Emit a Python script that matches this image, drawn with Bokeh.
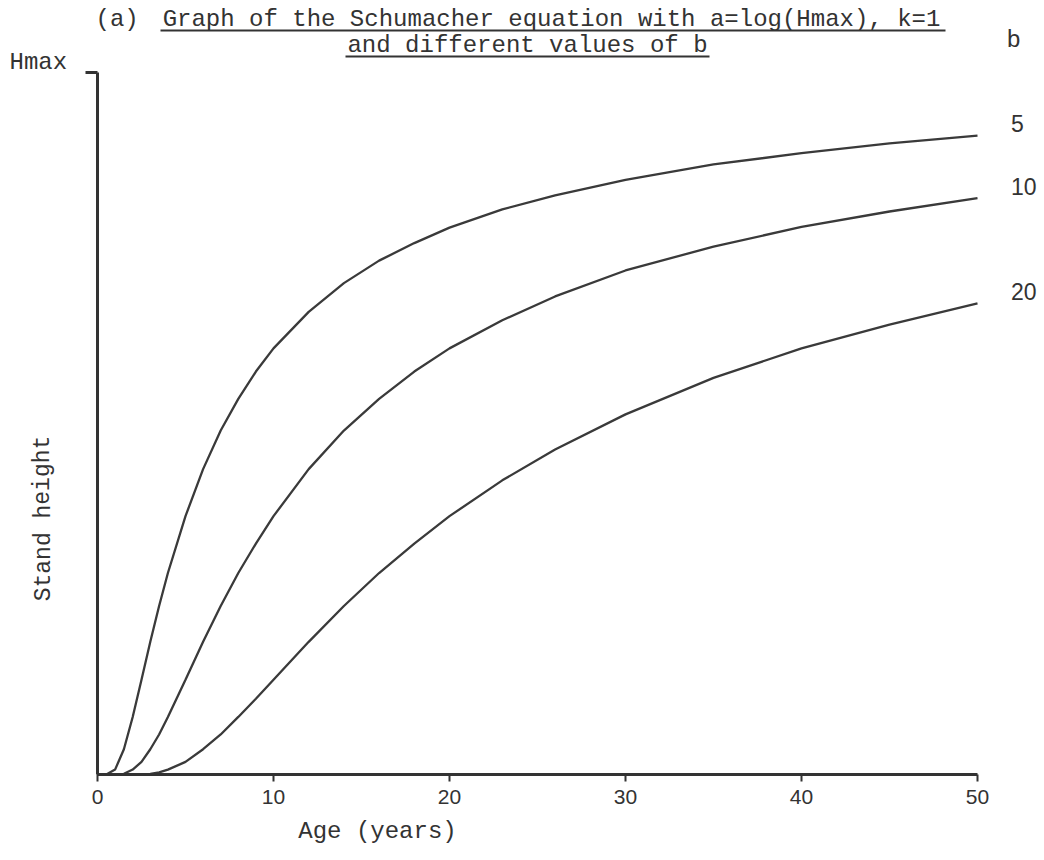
from bokeh.plotting import figure
from bokeh.models import FixedTicker, Label, BoxAnnotation, Range1d
from bokeh.embed import file_html
from bokeh.resources import INLINE

# ---- data (height as a fraction of Hmax) ----
ages = [0, 0.5, 1, 1.5, 2, 2.5, 3, 3.5, 4, 5, 6, 7, 8, 9, 10, 12, 14, 16, 18,
        20, 23, 26, 30, 35, 40, 45, 50]
b_values = ["5", "10", "20"]
h_b5 = [0, 0.000, 0.007, 0.036, 0.082, 0.135, 0.189, 0.240, 0.287, 0.368, 0.435,
        0.490, 0.535, 0.574, 0.607, 0.659, 0.700, 0.732, 0.757, 0.779, 0.805,
        0.825, 0.847, 0.869, 0.885, 0.899, 0.910]
h_b10 = [0, 0.000, 0.000, 0.001, 0.007, 0.018, 0.036, 0.057, 0.082, 0.135, 0.189,
         0.240, 0.287, 0.329, 0.368, 0.435, 0.490, 0.535, 0.574, 0.607, 0.647,
         0.681, 0.718, 0.752, 0.780, 0.802, 0.821]
h_b20 = [0, 0.000, 0.000, 0.000, 0.000, 0.000, 0.001, 0.003, 0.007, 0.018, 0.036,
         0.057, 0.082, 0.108, 0.135, 0.189, 0.240, 0.287, 0.329, 0.368, 0.419,
         0.463, 0.513, 0.565, 0.607, 0.641, 0.671]
series = [h_b5, h_b10, h_b20]
x_ticks = [0, 10, 20, 30, 40, 50]

title_1 = "Graph of the Schumacher equation with a=log(Hmax), k=1"
title_2 = "and different values of b"

INK = "#333333"
MONO = "Liberation Mono"
DIGITS = "Liberation Sans"

W, H = 1044, 860
X0, XS = 97, 17.6      # pixel of age 0, pixels per year
Y0, YS = 774, 702      # pixel of height 0, pixels per Hmax


def px_x(px):
    return (px - X0) / XS


def px_y(py):
    return (Y0 - py) / YS


p = figure(width=W, height=H, output_backend="svg", toolbar_location=None,
           x_range=Range1d(px_x(0), px_x(W)), y_range=Range1d(px_y(H), px_y(0)),
           min_border=0, min_border_left=0, min_border_right=0,
           min_border_top=0, min_border_bottom=0, title=None)
p.outline_line_color = None
p.grid.visible = False
p.background_fill_color = "white"
p.border_fill_color = "white"

# x axis
xa = p.xaxis[0]
xa.fixed_location = 0
xa.ticker = FixedTicker(ticks=x_ticks)
xa.bounds = (0, 50)
xa.axis_line_width = 3
xa.axis_line_color = INK
xa.major_tick_out = 7
xa.major_tick_in = 0
xa.major_tick_line_width = 2
xa.major_tick_line_color = INK
xa.minor_tick_line_color = None
xa.major_label_text_font = DIGITS
xa.major_label_text_font_size = "21px"
xa.major_label_text_color = INK
xa.major_label_standoff = 8

# y axis: a single tick at Hmax
ya = p.yaxis[0]
ya.fixed_location = 0
ya.ticker = FixedTicker(ticks=[1.0])
ya.bounds = (0, 1.0)
ya.axis_line_width = 3
ya.axis_line_color = INK
ya.major_tick_out = 12
ya.major_tick_in = 0
ya.major_tick_line_width = 3
ya.major_tick_line_color = INK
ya.minor_tick_line_color = None
ya.major_label_overrides = {1.0: " "}

# curves
for vals in series:
    p.line(ages, vals, line_color="#3a3a3a", line_width=2.3)

# b labels at the right end of each curve
p.text(x=[51.9] * len(series), y=[v[-1] + 0.017 for v in series], text=b_values,
       text_font={"value": DIGITS}, text_font_size={"value": "23px"},
       text_color=INK, text_align="left", text_baseline="middle")


def lab(text, x, y, size="24px", align="left", font=MONO, angle=0.0):
    p.add_layout(Label(x=px_x(x), y=px_y(y), text=text, text_font=font,
                       text_font_size=size, text_color=INK, text_align=align,
                       text_baseline="middle", angle=angle))


lab("b", 1006, 40)
lab("(a)", 95, 19)
lab(title_1, 551, 19, align="center")
lab(title_2, 527, 45, align="center")
lab("Hmax", 9, 62)
lab("Stand height", 43, 518, size="23px", align="center", angle=1.5708)
lab("Age (years)", 377, 831, align="center")

for (l, r, yy) in [(160, 945, 30), (345, 709, 56)]:
    p.add_layout(BoxAnnotation(left=px_x(l), right=px_x(r), top=px_y(yy - 1),
                               bottom=px_y(yy + 1), fill_color=INK, fill_alpha=1.0,
                               line_color=None))

open("out.html", "w").write(file_html(p, INLINE))
